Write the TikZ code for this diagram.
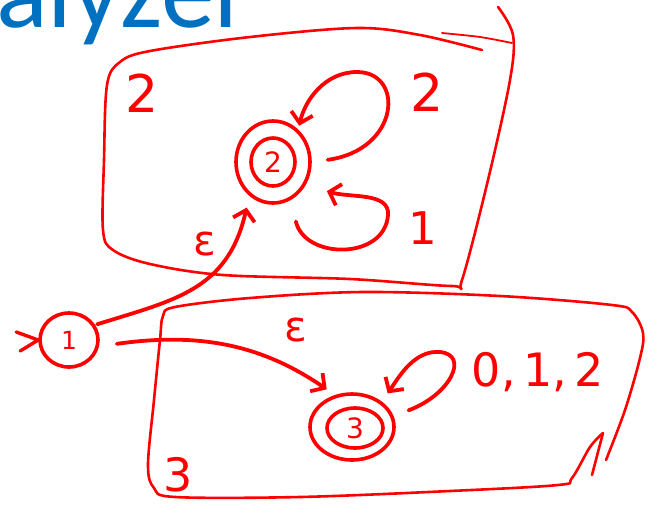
\documentclass[tikz,border=0pt]{standalone}
\usepackage{fontspec}
\setmainfont{DejaVu Sans}
\newfontfamily\ttlfont{Carlito}
\usepackage{xcolor}
\usepackage{tikz}
\usetikzlibrary{shapes.geometric,arrows.meta,positioning}
\definecolor{ink}{HTML}{FF0000}
\definecolor{ttlblue}{HTML}{0070C0}

\begin{document}
\begin{tikzpicture}[x=1pt,y=-1pt,
    frame/.style={draw=ink,line width=2.6pt,line cap=round,line join=round},
    edge/.style={draw=ink,line width=3.8pt,line cap=round,
                 -{Straight Barb[length=10pt,width=22pt]}},
    stnode/.style={ellipse,draw=ink,line width=3.6pt,inner sep=0pt,text=ink},
    lbl/.style={text=ink,inner sep=0pt}]
  \useasboundingbox (0,0) rectangle (648,507);
  \clip (0,0) rectangle (648,507);
  \node[anchor=base west,inner sep=0pt,text=ttlblue,
        font=\ttlfont\fontsize{108}{108}\selectfont] (ttl) at (-4,27) {alyzer};

  % boxes
  \draw[frame] plot[smooth,tension=0.55] coordinates {(482,50) (420,35) (357,28)
    (250,37) (150,51) (120,62) (107,85) (104,160) (103,230) (113,250) (150,264)
    (223,275) (350,279) (452,286) (462,280) (488,180) (510,80) (513,35) (498,7)};
  \draw[frame,line width=1.8pt] plot[smooth] coordinates {(442,33) (480,37) (512,43)};
  \draw[frame] plot[smooth,tension=0.55] coordinates {(606,460) (625,410) (640,358)
    (643,333) (632,312) (612,305) (500,296) (363,292) (250,298) (175,307) (163,316)
    (160,340) (154,400) (148,465) (154,488) (175,497) (300,497) (450,491) (558,485)
    (572,478) (590,447) (603,433)};
  \draw[frame] plot[smooth] coordinates {(603,433) (598,452) (592,475)};
  \node[lbl,font=\fontsize{52}{52}\selectfont] (boxa) at (142,93) {2};
  \node[lbl,font=\fontsize{46}{46}\selectfont] (boxb) at (178,475) {3};

  % states
  \node[stnode,minimum width=58pt,minimum height=54pt,
        font=\fontsize{25}{25}\selectfont] (q1) at (69,340) {1};
  \node[stnode,minimum width=74pt,minimum height=82pt] (q2) at (273,162) {};
  \node[stnode,minimum width=44pt,minimum height=48pt,
        font=\fontsize{28}{28}\selectfont] (q2in) at (q2) {2};
  \node[stnode,minimum width=84pt,minimum height=66pt] (q3) at (352,427) {};
  \node[stnode,minimum width=56pt,minimum height=40pt,
        font=\fontsize{28}{28}\selectfont] (q3in) at (355,428) {3};
  \draw[frame,line width=3.4pt] ([shift={(-22,-8)}]q1.west) -- (q1.west)
     -- ([shift={(-18,11)}]q1.west);

  % transitions
  \draw[edge,shorten <=2pt,shorten >=12pt] (q1.30) .. controls (175,300) and (228,290) .. (q2.235);
  \draw[edge,shorten <=18pt,shorten >=10pt] (q1.-12) .. controls (200,332) and (262,345) .. (q3.118);
  \draw[edge,shorten <=16pt,shorten >=4pt] (q2.0) .. controls (400,150) and (405,72) .. (357,72)
     .. controls (325,72) and (305,100) .. (q2.52);
  \draw[edge,shorten <=22pt,shorten >=22pt] (q2.-65) .. controls (305,260) and (385,260) .. (388,215)
     .. controls (390,192) and (350,198) .. (q2.-35);
  \draw[edge,shorten <=16pt,shorten >=10pt] (q3.15) .. controls (450,395) and (470,355) .. (440,352)
     .. controls (415,350) and (400,375) .. (q3.40);
  \node[lbl,font=\fontsize{42}{42}\selectfont] (epsa) at (205,244) {ε};
  \node[lbl,font=\fontsize{42}{42}\selectfont] (epsb) at (296,330) {ε};
  \node[lbl,font=\fontsize{52}{52}\selectfont] (lblz) at (427,92) {2};
  \node[lbl,font=\fontsize{45}{45}\selectfont] (lblone) at (423,228) {1};
  \node[lbl,font=\fontsize{46}{46}\selectfont] (lblall) at (538,372) {0,\,1,\,2};
\end{tikzpicture}
\end{document}
